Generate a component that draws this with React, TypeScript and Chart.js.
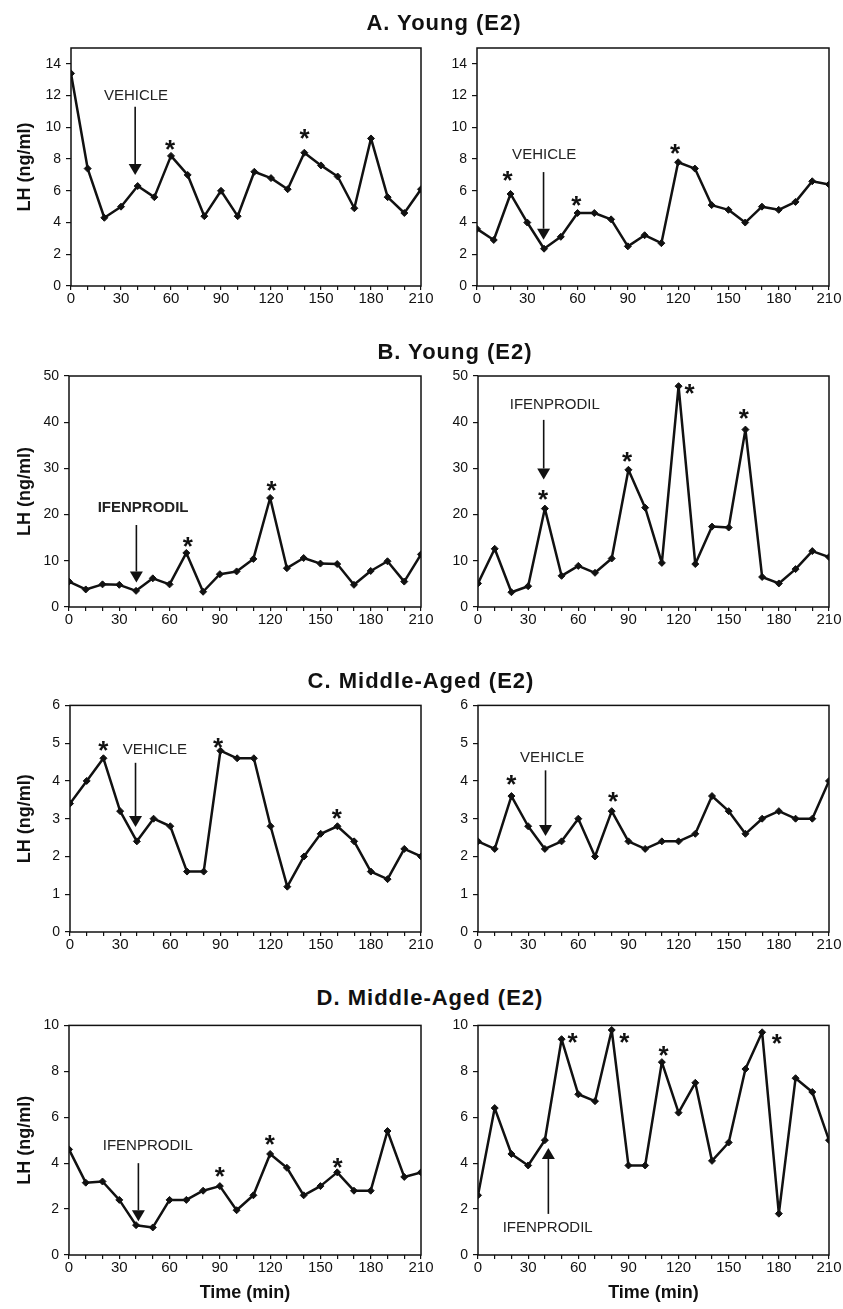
import React, { useEffect, useRef } from 'react';
import { Chart, registerables } from 'chart.js';

Chart.register(...registerables);

const FONT = "'Liberation Sans', Arial, Helvetica, sans-serif";
const INK = '#111111';

// ---------- data ----------
const TIMES = [0, 10, 20, 30, 40, 50, 60, 70, 80, 90, 100, 110, 120, 130, 140, 150, 160, 170, 180, 190, 200, 210];

const LH_A_LEFT = [13.4, 7.4, 4.3, 5.0, 6.3, 5.6, 8.2, 7.0, 4.4, 6.0, 4.4, 7.2, 6.8, 6.1, 8.4, 7.6, 6.9, 4.9, 9.3, 5.6, 4.6, 6.1];
const LH_A_RIGHT = [3.6, 2.9, 5.8, 4.0, 2.35, 3.1, 4.6, 4.6, 4.2, 2.5, 3.2, 2.7, 7.8, 7.4, 5.1, 4.8, 4.0, 5.0, 4.8, 5.3, 6.6, 6.4];
const LH_B_LEFT = [5.5, 3.8, 4.9, 4.8, 3.5, 6.2, 4.9, 11.7, 3.3, 7.1, 7.7, 10.4, 23.6, 8.4, 10.6, 9.4, 9.3, 4.8, 7.8, 9.9, 5.5, 11.4];
const LH_B_RIGHT = [5.1, 12.6, 3.2, 4.5, 21.3, 6.75, 8.9, 7.4, 10.5, 29.7, 21.5, 9.55, 47.8, 9.3, 17.4, 17.2, 38.4, 6.5, 5.1, 8.2, 12.1, 10.8];
const LH_C_LEFT = [3.4, 4.0, 4.6, 3.2, 2.4, 3.0, 2.8, 1.6, 1.6, 4.8, 4.6, 4.6, 2.8, 1.2, 2.0, 2.6, 2.8, 2.4, 1.6, 1.4, 2.2, 2.0];
const LH_C_RIGHT = [2.4, 2.2, 3.6, 2.8, 2.2, 2.4, 3.0, 2.0, 3.2, 2.4, 2.2, 2.4, 2.4, 2.6, 3.6, 3.2, 2.6, 3.0, 3.2, 3.0, 3.0, 4.0];
const LH_D_LEFT = [4.6, 3.15, 3.2, 2.4, 1.3, 1.2, 2.4, 2.4, 2.8, 3.0, 1.95, 2.6, 4.4, 3.8, 2.6, 3.0, 3.6, 2.8, 2.8, 5.4, 3.4, 3.6];
const LH_D_RIGHT = [2.6, 6.4, 4.4, 3.9, 5.0, 9.4, 7.0, 6.7, 9.8, 3.9, 3.9, 8.4, 6.2, 7.5, 4.1, 4.9, 8.1, 9.7, 1.8, 7.7, 7.1, 5.0];

const ROW_TITLES = ['A. Young (E2)', 'B. Young (E2)', 'C. Middle-Aged (E2)', 'D. Middle-Aged (E2)'];
const ROW_Y_MAX = [15, 50, 6, 10];
const ROW_Y_STEP = [2, 10, 1, 2];
const X_MAX = 210;
const X_STEP = 10;
const X_LABEL_EVERY = 30;
const Y_TITLE = 'LH (ng/ml)';
const X_TITLE = 'Time (min)';

// significance stars: [time, LH]
const STARS_A_LEFT = [[59.4, 9.0], [140.2, 9.7]];
const STARS_A_RIGHT = [[18.3, 7.07], [59.2, 5.5], [118.1, 8.75]];
const STARS_B_LEFT = [[70.9, 14.5], [120.8, 26.5]];
const STARS_B_RIGHT = [[38.9, 24.6], [89.2, 32.9], [126.6, 47.5], [159, 42.1]];
const STARS_C_LEFT = [[19.9, 4.97], [88.6, 5.06], [159.6, 3.17]];
const STARS_C_RIGHT = [[20, 4.06], [80.8, 3.63]];
const STARS_D_LEFT = [[90, 3.71], [119.8, 5.07], [160.2, 4.07]];
const STARS_D_RIGHT = [[56.5, 9.53], [87.6, 9.53], [111, 8.98], [178.8, 9.5]];

// injection arrows: [time, from LH, to LH (tip)]
const ARROW_A_LEFT = [38.5, 11.3, 7.0];
const ARROW_A_RIGHT = [39.7, 7.18, 2.92];
const ARROW_B_LEFT = [40.2, 17.75, 5.3];
const ARROW_B_RIGHT = [39.3, 40.5, 27.6];
const ARROW_C_LEFT = [39.2, 4.48, 2.78];
const ARROW_C_RIGHT = [40.4, 4.28, 2.54];
const ARROW_D_LEFT = [41.4, 4.0, 1.47];
const ARROW_D_RIGHT = [42.1, 1.79, 4.66];

// treatment labels: [time, LH, text]
const LABEL_A_LEFT = [39, 12.0, 'VEHICLE'];
const LABEL_A_RIGHT = [40.1, 8.27, 'VEHICLE'];
const LABEL_B_LEFT = [44.2, 21.4, 'IFENPRODIL'];
const LABEL_B_RIGHT = [45.9, 43.7, 'IFENPRODIL'];
const LABEL_C_LEFT = [50.8, 4.81, 'VEHICLE'];
const LABEL_C_RIGHT = [44.4, 4.6, 'VEHICLE'];
const LABEL_D_LEFT = [47, 4.74, 'IFENPRODIL'];
const LABEL_D_RIGHT = [41.7, 1.19, 'IFENPRODIL'];

// ---------- layout ----------
const ROW_GEOM = [
  { cTop: 30, cBottom: 320, T: 48, B: 286, Lleft: 71, Lright: 477, titleX: 444, titleTop: 12 },
  { cTop: 362, cBottom: 640, T: 376, B: 607, Lleft: 69, Lright: 478, titleX: 455, titleTop: 341 },
  { cTop: 692, cBottom: 965, T: 702, B: 932, Lleft: 70, Lright: 478, titleX: 421, titleTop: 670 },
  { cTop: 1012, cBottom: 1309, T: 1022, B: 1255, Lleft: 69, Lright: 478, titleX: 430, titleTop: 987 },
];
const LEFT_CANVAS = { x: 0, w: 440, padLeft: 10, R: 421 };
const RIGHT_CANVAS = { x: 440, w: 403, padLeft: 0, R: 829 };

const PANEL_DATA = [
  [LH_A_LEFT, STARS_A_LEFT, ARROW_A_LEFT, LABEL_A_LEFT, false],
  [LH_A_RIGHT, STARS_A_RIGHT, ARROW_A_RIGHT, LABEL_A_RIGHT, false],
  [LH_B_LEFT, STARS_B_LEFT, ARROW_B_LEFT, LABEL_B_LEFT, true],
  [LH_B_RIGHT, STARS_B_RIGHT, ARROW_B_RIGHT, LABEL_B_RIGHT, false],
  [LH_C_LEFT, STARS_C_LEFT, ARROW_C_LEFT, LABEL_C_LEFT, false],
  [LH_C_RIGHT, STARS_C_RIGHT, ARROW_C_RIGHT, LABEL_C_RIGHT, false],
  [LH_D_LEFT, STARS_D_LEFT, ARROW_D_LEFT, LABEL_D_LEFT, false],
  [LH_D_RIGHT, STARS_D_RIGHT, ARROW_D_RIGHT, LABEL_D_RIGHT, false],
];

function buildPanels() {
  const panels: any[] = [];
  PANEL_DATA.forEach((d, i) => {
    const row = Math.floor(i / 2);
    const isLeft = i % 2 === 0;
    const g = ROW_GEOM[row];
    const c = isLeft ? LEFT_CANVAS : RIGHT_CANVAS;
    const L = isLeft ? g.Lleft : g.Lright;
    const padBottom = row === 3 ? 1 : 0;
    panels.push({
      key: 'p' + i,
      row,
      isLeft,
      values: d[0],
      stars: d[1],
      arrow: d[2],
      label: d[3],
      labelBold: d[4],
      x: c.x,
      y: g.cTop,
      w: c.w,
      h: g.cBottom - g.cTop,
      padLeft: c.padLeft,
      padRight: c.x + c.w - c.R,
      padTop: g.T - g.cTop,
      padBottom,
      yAxisWidth: L - c.x - c.padLeft,
      xAxisHeight: g.cBottom - padBottom - g.B,
      yMax: ROW_Y_MAX[row],
      yStep: ROW_Y_STEP[row],
      showXTitle: row === 3,
    });
  });
  return panels;
}

function onStep(v: number, step: number) {
  const r = v / step;
  return Math.abs(r - Math.round(r)) < 1e-6;
}

function marksPlugin(p: any) {
  return {
    id: 'marks_' + p.key,
    afterDatasetsDraw(chart: any) {
      const { ctx, chartArea: a, scales } = chart;
      const xs = scales.x;
      const ys = scales.y;
      ctx.save();
      ctx.strokeStyle = INK;
      ctx.fillStyle = INK;
      ctx.lineWidth = 1.5;
      ctx.strokeRect(a.left, a.top, a.right - a.left, a.bottom - a.top);

      // arrow
      const [at, af, ato] = p.arrow;
      const ax = xs.getPixelForValue(at);
      const ya = ys.getPixelForValue(af);
      const yb = ys.getPixelForValue(ato);
      const dir = yb > ya ? 1 : -1;
      const HL = 11;
      const HW = 6.5;
      ctx.lineWidth = 1.6;
      ctx.beginPath();
      ctx.moveTo(ax, ya);
      ctx.lineTo(ax, yb - dir * HL);
      ctx.stroke();
      ctx.beginPath();
      ctx.moveTo(ax, yb);
      ctx.lineTo(ax - HW, yb - dir * HL);
      ctx.lineTo(ax + HW, yb - dir * HL);
      ctx.closePath();
      ctx.fill();

      // label
      const [lt, lv, text] = p.label;
      ctx.font = (p.labelBold ? 'bold ' : '') + '15px ' + FONT;
      ctx.fillStyle = '#222222';
      ctx.textAlign = 'center';
      ctx.textBaseline = 'middle';
      ctx.fillText(text, xs.getPixelForValue(lt), ys.getPixelForValue(lv));

      // stars
      const fs = 26;
      ctx.fillStyle = INK;
      ctx.font = 'bold ' + fs + 'px ' + FONT;
      ctx.textBaseline = 'alphabetic';
      for (const s of p.stars) {
        ctx.fillText('*', xs.getPixelForValue(s[0]), ys.getPixelForValue(s[1]) + 0.57 * fs);
      }
      ctx.restore();
    },
  };
}

function PanelChart({ p }: { p: any }) {
  const ref = useRef<HTMLCanvasElement>(null);
  useEffect(() => {
    const canvas = ref.current;
    if (!canvas) return;
    const chart = new Chart(canvas, {
      type: 'line',
      data: {
        datasets: [
          {
            data: TIMES.map((t, i) => ({ x: t, y: p.values[i] })),
            borderColor: INK,
            backgroundColor: INK,
            borderWidth: 2.5,
            borderJoinStyle: 'round',
            pointStyle: 'rectRot',
            pointRadius: 3.5,
            pointBorderWidth: 1,
            pointBackgroundColor: INK,
            pointBorderColor: INK,
            tension: 0,
            fill: false,
          },
        ],
      },
      options: {
        responsive: false,
        animation: false,
        events: [],
        layout: { padding: { left: p.padLeft, right: p.padRight, top: p.padTop, bottom: p.padBottom } },
        plugins: { legend: { display: false }, tooltip: { enabled: false }, title: { display: false } },
        scales: {
          x: {
            type: 'linear',
            min: 0,
            max: X_MAX,
            bounds: 'data',
            ticks: {
              stepSize: X_STEP,
              autoSkip: false,
              maxRotation: 0,
              minRotation: 0,
              includeBounds: false,
              padding: 0,
              color: INK,
              font: { family: FONT, size: 15 },
              callback: (v: any) => (Math.round(v) % X_LABEL_EVERY === 0 ? String(Math.round(v)) : ''),
            },
            afterBuildTicks: (s: any) => {
              s.ticks = s.ticks.filter((t: any) => onStep(t.value, X_STEP));
            },
            grid: { drawOnChartArea: false, drawTicks: true, tickLength: 4, color: INK, lineWidth: 1.2 },
            border: { display: false },
            title: {
              display: p.showXTitle,
              text: X_TITLE,
              color: INK,
              font: { family: FONT, size: 18, weight: 'bold' },
              padding: { top: 4, bottom: 4 },
            },
            afterFit: (s: any) => {
              s.height = p.xAxisHeight;
            },
          },
          y: {
            type: 'linear',
            min: 0,
            max: p.yMax,
            bounds: 'data',
            ticks: {
              stepSize: p.yStep,
              includeBounds: false,
              padding: 5,
              color: INK,
              font: { family: FONT, size: 14 },
            },
            afterBuildTicks: (s: any) => {
              s.ticks = s.ticks.filter((t: any) => onStep(t.value, p.yStep));
            },
            grid: { drawOnChartArea: false, drawTicks: true, tickLength: 5, color: INK, lineWidth: 1.2 },
            border: { display: false },
            title: {
              display: p.isLeft,
              text: Y_TITLE,
              color: INK,
              font: { family: FONT, size: 18, weight: 'bold' },
              padding: { top: 4, bottom: 4 },
            },
            afterFit: (s: any) => {
              s.width = p.yAxisWidth;
            },
          },
        },
      } as any,
      plugins: [marksPlugin(p)],
    });
    return () => chart.destroy();
  }, [p]);
  return (
    <canvas
      ref={ref}
      width={p.w}
      height={p.h}
      style={{ position: 'absolute', left: p.x, top: p.y, width: p.w, height: p.h }}
    />
  );
}

const PANELS = buildPanels();

export default function App() {
  return (
    <div
      style={{
        position: 'absolute',
        left: 0,
        top: 0,
        width: 843,
        height: 1309,
        background: '#ffffff',
        overflow: 'hidden',
      }}
    >
      {PANELS.map((p) => (
        <PanelChart key={p.key} p={p} />
      ))}
      {ROW_TITLES.map((t, i) => (
        <div
          key={t + i}
          style={{
            position: 'absolute',
            left: ROW_GEOM[i].titleX,
            top: ROW_GEOM[i].titleTop,
            transform: 'translateX(-50%)',
            whiteSpace: 'nowrap',
            fontFamily: FONT,
            fontWeight: 'bold',
            fontSize: 22,
            lineHeight: '22px',
            letterSpacing: 1,
            color: INK,
          }}
        >
          {t}
        </div>
      ))}
    </div>
  );
}
